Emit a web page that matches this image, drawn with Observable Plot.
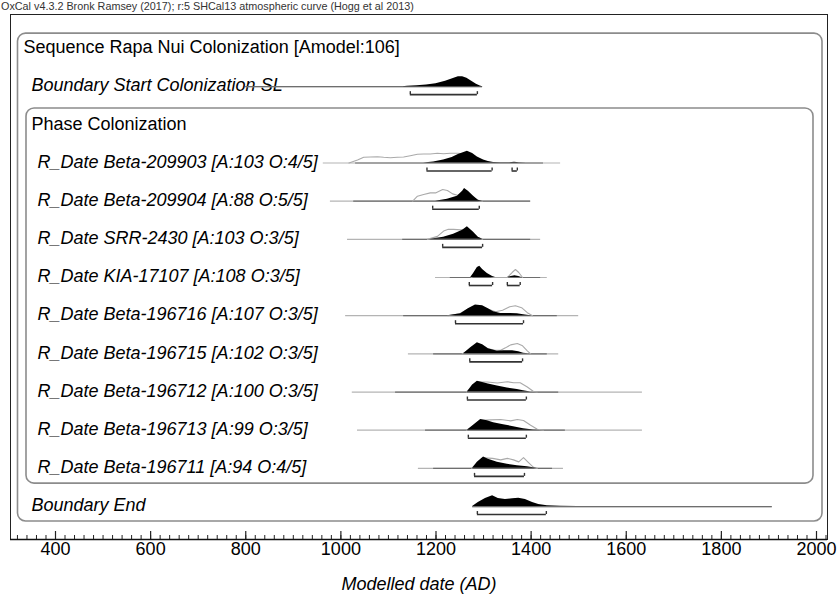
<!DOCTYPE html>
<html><head><meta charset="utf-8">
<script src="https://cdn.jsdelivr.net/npm/d3@7"></script>
<script src="https://cdn.jsdelivr.net/npm/@observablehq/plot@0.6"></script>
<style>
body{margin:0;background:#fff;font-family:"Liberation Sans",Arial,sans-serif;}
#wrap{position:relative;width:837px;height:602px;overflow:hidden;}
#wrap svg{position:absolute;left:0;top:0;}
#cap{position:absolute;left:1px;top:0px;font-size:10.8px;line-height:13px;color:#333;white-space:nowrap;z-index:2;}
</style></head><body>
<div id="wrap"><div id="cap">OxCal v4.3.2 Bronk Ramsey (2017); r:5 SHCal13 atmospheric curve (Hogg et al 2013)</div></div>
<script>
// ---------- data ----------
const rowLabels = [
  "Sequence Rapa Nui Colonization [Amodel:106]",
  "Boundary Start Colonization SL",
  "Phase Colonization",
  "R_Date Beta-209903 [A:103 O:4/5]",
  "R_Date Beta-209904 [A:88 O:5/5]",
  "R_Date SRR-2430 [A:103 O:3/5]",
  "R_Date KIA-17107 [A:108 O:3/5]",
  "R_Date Beta-196716 [A:107 O:3/5]",
  "R_Date Beta-196715 [A:102 O:3/5]",
  "R_Date Beta-196712 [A:100 O:3/5]",
  "R_Date Beta-196713 [A:99 O:3/5]",
  "R_Date Beta-196711 [A:94 O:4/5]",
  "Boundary End"
];
const rowLevel  = [0,1,1,2,2,2,2,2,2,2,2,2,1];
const rowItalic = [false,true,false,true,true,true,true,true,true,true,true,true,true];

const majorTicks = [400,600,800,1000,1200,1400,1600,1800,2000];
const axisLabel = "Modelled date (AD)";

// posterior (black) and likelihood (grey outline): [year, relative density]
const startPost = [[1130,0],[1140,0.3],[1160,0.8],[1180,1.6],[1200,3],[1220,5.5],[1235,8],[1247,10],[1256,10],[1265,8.5],[1275,5.5],[1285,2.5],[1293,0.6],[1298,0]];
const b209903Post = [[1174,0],[1195,1],[1216,3],[1234,5.5],[1247,8.5],[1266,11.7],[1277,9.5],[1287,6],[1300,3],[1310,1.5],[1321,0.5],[1336,0.2],[1355,0.2],[1365,0.7],[1375,0.3],[1390,0]];
const b209903Prior = [[1017,0],[1035,3],[1048,5.7],[1062,6],[1077,6.3],[1090,5.7],[1104,5.3],[1119,5.7],[1132,6],[1146,7.3],[1161,8.7],[1174,9],[1188,9],[1203,9.7],[1216,9.3],[1230,9.7],[1245,9.7],[1266,9],[1277,7],[1287,4.5],[1300,1.5],[1310,0.3],[1320,0]];
const b209904Post = [[1199,0],[1224,2],[1245,5],[1256,10],[1260,12.7],[1268,10],[1279,5],[1289,1],[1298,0]];
const b209904Prior = [[1151,0],[1161,5],[1174,6.7],[1188,8.3],[1199,8.3],[1214,11.7],[1224,10.7],[1235,7.3],[1245,6],[1256,7],[1268,6],[1280,3],[1290,0.5],[1298,0]];
const srr2430Post = [[1188,0],[1216,2],[1237,5],[1256,9],[1266,12.7],[1279,7],[1289,2],[1298,0]];
const srr2430Prior = [[1182,0],[1203,3],[1216,8.3],[1226,10],[1237,10],[1252,9.5],[1262,10],[1275,6],[1289,1.5],[1298,0]];
const kia17107Post = [[1273,0],[1279,4],[1287,10],[1292,11.3],[1298,8],[1308,4],[1319,1],[1325,0],[1350,0],[1358,1],[1366,1.7],[1374,1],[1380,0]];
const kia17107Prior = [[1275,0],[1287,7],[1294,8],[1305,3.5],[1318,0.5],[1325,0],[1350,0],[1360,5],[1367,8],[1374,5],[1382,0]];
const b196716Post = [[1224,0],[1252,2],[1268,7],[1283,10.7],[1298,10],[1310,7],[1321,4],[1336,2.3],[1357,2.3],[1371,2],[1384,1],[1399,0]];
const b196716Prior = [[1225,0],[1250,2],[1265,6],[1280,9.5],[1295,9.5],[1310,6.5],[1325,4],[1340,5.5],[1355,9],[1367,10],[1380,8],[1392,3],[1403,0]];
const b196715Post = [[1258,0],[1273,6],[1287,11],[1298,9],[1310,5],[1329,2.5],[1342,3],[1361,3],[1374,2],[1384,0.5],[1394,0]];
const b196715Prior = [[1255,0],[1272,5],[1287,10],[1298,8.5],[1310,5],[1325,3.5],[1336,3.5],[1346,6],[1357,9],[1371,10.3],[1382,8],[1392,3],[1399,0]];
const b196712Post = [[1266,0],[1277,7],[1287,10.7],[1298,9.5],[1310,8],[1329,6],[1350,4],[1371,2.5],[1384,1.3],[1399,0]];
const b196712Prior = [[1264,0],[1276,6],[1287,10],[1298,10],[1308,10],[1329,9],[1350,10.3],[1363,9.3],[1377,9.3],[1392,5],[1405,0.5],[1413,0]];
const b196713Post = [[1266,0],[1279,5],[1294,10.7],[1308,9.5],[1321,7.5],[1342,5.5],[1363,3.5],[1384,1.5],[1405,0.3],[1420,0]];
const b196713Prior = [[1264,0],[1279,4.5],[1294,10],[1315,10.3],[1336,10.7],[1357,9.3],[1371,10.7],[1384,9.7],[1399,5],[1413,1],[1426,0]];
const b196711Post = [[1277,0],[1287,6],[1300,11.3],[1310,9],[1329,6],[1350,4],[1371,2.5],[1392,1.5],[1405,0.5],[1413,0]];
const b196711Prior = [[1275,0],[1287,5.5],[1300,10.5],[1319,10],[1336,8.5],[1350,10],[1363,8.5],[1374,6.5],[1384,10.7],[1394,6],[1405,1],[1413,0]];
const endPost = [[1277,0],[1289,4],[1304,8],[1319,10.7],[1331,8],[1346,7],[1361,7.7],[1374,8.3],[1388,7],[1403,4],[1416,2],[1434,0.8],[1462,0.3],[1497,0.1],[1531,0]];

// line extents (full / central) and 95.4% ranges
const fullRange = [[800,1298],[963,1462],[978,1399],[1014,1420],[1199,1434],[1010,1500],[1142,1458],[1024,1634],[1035,1634],[1163,1468],[1277,1907]];
const coreRange = [[800,1298],[1031,1426],[1027,1399],[1130,1399],[1230,1420],[1132,1455],[1195,1434],[1115,1458],[1178,1472],[1195,1445],[1277,1907]];
const hpdRanges = [
  [[1146,1287]],
  [[1181,1318],[1360,1371]],
  [[1193,1291]],
  [[1214,1298]],
  [[1270,1319],[1350,1377]],
  [[1241,1384]],
  [[1271,1382]],
  [[1266,1390]],
  [[1268,1390]],
  [[1281,1386]],
  [[1287,1432]]
];
const itemRows = [1,3,4,5,6,7,8,9,10,11,12];
const itemPost = [startPost,b209903Post,b209904Post,srr2430Post,kia17107Post,b196716Post,b196715Post,b196712Post,b196713Post,b196711Post,endPost];
const itemPrior = [null,b209903Prior,b209904Prior,srr2430Prior,kia17107Prior,b196716Prior,b196715Prior,b196712Prior,b196713Prior,b196711Prior,null];

// ---------- layout ----------
const W = 837, H = 602;
const mL = 10, mR = 10, mT = 14, mB = 63;
const PX = 38.17;           // pixels per row
const base0 = 48;           // pixel of row 0 baseline
const yDomTop = (mT - base0) / PX;
const yDomBot = (H - mB - base0) / PX;
const xPerPx = 2.1025;      // years per pixel
const X0 = 400 + (mL - 55) * xPerPx;
const X1 = 400 + (W - mR - 55) * xPerPx;

// ---------- tables ----------
const rows = rowLabels.map((label, i) => ({row: i, label, level: rowLevel[i], italic: rowItalic[i]}));
const post = [], prior = [], lines = [], cores = [], brs = [], brEnds = [];
itemRows.forEach((r, k) => {
  itemPost[k].forEach(([year, d]) => post.push({row: r, year, base: r, top: r - d / PX}));
  if (itemPrior[k]) itemPrior[k].forEach(([year, d]) => prior.push({row: r, year, top: r - d / PX}));
  lines.push({row: r, a: fullRange[k][0], b: fullRange[k][1]});
  cores.push({row: r, a: coreRange[k][0], b: coreRange[k][1]});
  hpdRanges[k].forEach(([a, b]) => {
    brs.push({row: r, a, b});
    brEnds.push({row: r, x: a}); brEnds.push({row: r, x: b});
  });
});
const boxes = [{name: "seq", from: 0, to: 12}, {name: "phase", from: 2, to: 11}];
const minorTicks = d3.range(320, 2021, 20);
const brOff = 8 / PX, brTick = 3 / PX;

const chart = Plot.plot({
  width: W, height: H,
  marginLeft: mL, marginRight: mR, marginTop: mT, marginBottom: mB,
  x: {domain: [X0, X1], axis: null},
  y: {domain: [yDomBot, yDomTop], axis: null},
  style: {fontFamily: "'Liberation Sans', Arial, sans-serif", background: "white", overflow: "visible"},
  marks: [
    Plot.rect(boxes.filter(d => d.name === "seq"), {x1: () => X0, x2: () => X1, y1: d => d.from - 0.39, y2: d => d.to + 0.39,
      insetLeft: 7.5, insetRight: 5, rx: 8, fill: "none", stroke: "#8c8c8c", strokeWidth: 1.6}),
    Plot.rect(boxes.filter(d => d.name === "phase"), {x1: () => X0, x2: () => X1, y1: d => d.from - 0.43, y2: d => d.to + 0.40,
      insetLeft: 16, insetRight: 14, rx: 8, fill: "none", stroke: "#8c8c8c", strokeWidth: 1.6}),
    Plot.text(rows.filter(d => d.level === 0), {text: "label", y: "row", frameAnchor: "left", dx: 13, dy: -1, textAnchor: "start", fontSize: 18, fill: "black"}),
    Plot.text(rows.filter(d => d.level === 1 && !d.italic), {text: "label", y: "row", frameAnchor: "left", dx: 21, dy: -1, textAnchor: "start", fontSize: 18, fill: "black"}),
    Plot.text(rows.filter(d => d.level === 1 && d.italic), {text: "label", y: "row", frameAnchor: "left", dx: 21, dy: -1, textAnchor: "start", fontSize: 18, fontStyle: "italic", fill: "black"}),
    Plot.text(rows.filter(d => d.level === 2), {text: "label", y: "row", frameAnchor: "left", dx: 27, dy: -1, textAnchor: "start", fontSize: 18, fontStyle: "italic", fill: "black"}),
    Plot.ruleY(lines, {x1: "a", x2: "b", y: "row", stroke: "#b4b4b4", strokeWidth: 1.2}),
    Plot.ruleY(cores, {x1: "a", x2: "b", y: "row", stroke: "#6e6e6e", strokeWidth: 1.2}),
    Plot.line(prior, {x: "year", y: "top", z: "row", stroke: "#aaaaaa", strokeWidth: 1.1}),
    Plot.areaY(post, {x: "year", y1: "base", y2: "top", z: "row", fill: "black"}),
    Plot.ruleY(brs, {x1: "a", x2: "b", y: d => d.row + brOff, stroke: "#333", strokeWidth: 1.6}),
    Plot.ruleX(brEnds, {x: "x", y1: d => d.row + brOff, y2: d => d.row + brOff - brTick, stroke: "#333", strokeWidth: 1.4}),
    Plot.frame({stroke: "#222", strokeWidth: 1}),
    Plot.ruleX(minorTicks, {x: d => d, y1: yDomBot, y2: yDomBot - 4 / PX, stroke: "#222", strokeWidth: 1}),
    Plot.ruleX(majorTicks, {x: d => d, y1: yDomBot, y2: yDomBot - 8 / PX, stroke: "#222", strokeWidth: 1.2}),
    Plot.ruleY([yDomBot], {stroke: "#111", strokeWidth: 1.5}),
    Plot.text(majorTicks, {x: d => d, text: d => String(d), frameAnchor: "bottom", dy: 15, fontSize: 18, fill: "black"}),
    Plot.text([axisLabel], {text: d => d, frameAnchor: "bottom", dy: 50, fontSize: 18, fontStyle: "italic", fill: "black"})
  ]
});
document.getElementById("wrap").prepend(chart);
</script>
</body></html>
